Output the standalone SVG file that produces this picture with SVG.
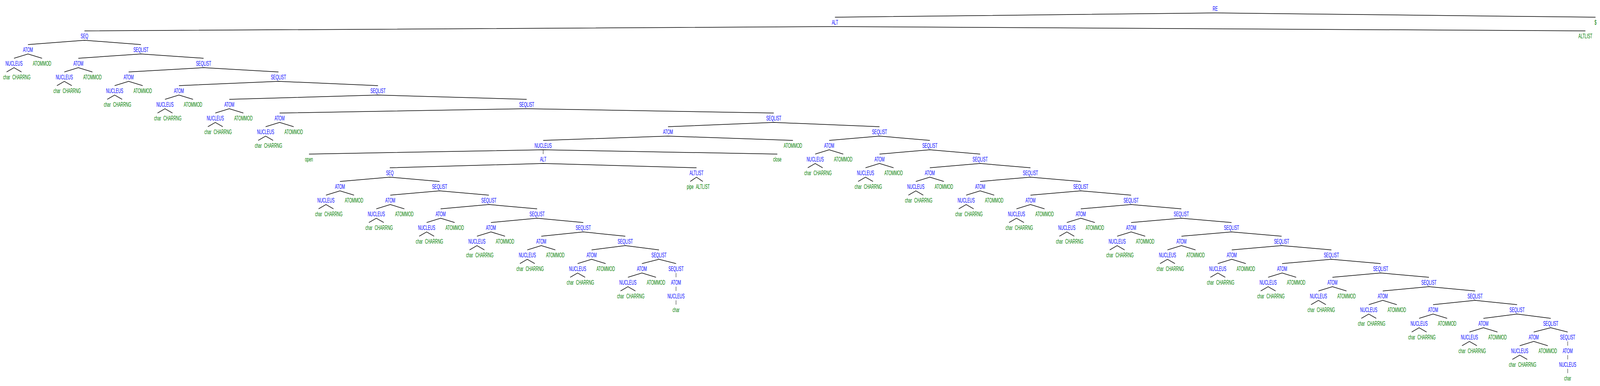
<svg xmlns="http://www.w3.org/2000/svg" width="7128" height="987" viewBox="0 0 7128 987" preserveAspectRatio="none">
<style>
svg{width:100vw;height:100vh}
text{font-family:"Liberation Sans",Arial,Helvetica,sans-serif;font-size:16px;text-anchor:middle}
.n{fill:#0000ff}
.t{fill:#008000}
#edges path{fill:none;stroke:#000;stroke-width:1.5}
</style>
<rect width="7128" height="987" fill="#ffffff"/>
<g id="edges">
<path d="M3719.7,44 L5413.8,33 L7108,44"/>
<path d="M376.3,79 L3719.7,68 L7063,79"/>
<path d="M124.7,114 L376.3,103 L627.9,114"/>
<path d="M348.9,149 L627.9,138 L906.9,149"/>
<path d="M573.1,184 L906.9,173 L1240.6,184"/>
<path d="M797.3,219 L1240.6,208 L1684,219"/>
<path d="M1021.5,254 L1684,243 L2346.4,254"/>
<path d="M1245.7,289 L2346.4,278 L3447.1,289"/>
<path d="M2976.1,324 L3447.1,313 L3918.2,324"/>
<path d="M2419.8,359 L2976.1,348 L3532.5,359"/>
<path d="M1376.5,394 L2419.8,383 L3463,394 M2419.8,383 L2419.8,394"/>
<path d="M1736.5,429 L2419.8,418 L3103,429"/>
<path d="M3075,464 L3103,453 L3131,464"/>
<path d="M1514.6,464 L1736.5,453 L1958.4,464"/>
<path d="M1738.8,499 L1958.4,488 L2177.9,499"/>
<path d="M1963,534 L2177.9,523 L2392.8,534"/>
<path d="M2187.2,569 L2392.8,558 L2598.5,569"/>
<path d="M2411.4,604 L2598.5,593 L2785.7,604"/>
<path d="M2635.6,639 L2785.7,628 L2935.8,639"/>
<path d="M2859.8,674 L2935.8,663 L3011.8,674"/>
<path d="M3011.8,698 L3011.8,709"/>
<path d="M3011.8,733 L3011.8,744"/>
<path d="M3011.8,768 L3011.8,779"/>
<path d="M3694,359 L3918.2,348 L4142.4,359"/>
<path d="M3918.2,394 L4142.4,383 L4366.6,394"/>
<path d="M4142.4,429 L4366.6,418 L4590.7,429"/>
<path d="M4366.6,464 L4590.7,453 L4814.9,464"/>
<path d="M4590.8,499 L4814.9,488 L5038.9,499"/>
<path d="M4815,534 L5038.9,523 L5262.8,534"/>
<path d="M5039.2,569 L5262.8,558 L5486.5,569"/>
<path d="M5263.4,604 L5486.5,593 L5709.5,604"/>
<path d="M5487.6,639 L5709.5,628 L5931.4,639"/>
<path d="M5711.8,674 L5931.4,663 L6150.9,674"/>
<path d="M5936,709 L6150.9,698 L6365.8,709"/>
<path d="M6160.2,744 L6365.8,733 L6571.5,744"/>
<path d="M6384.4,779 L6571.5,768 L6758.5,779"/>
<path d="M6608.6,814 L6758.5,803 L6908.4,814"/>
<path d="M6832.8,849 L6908.4,838 L6984,849"/>
<path d="M6984,873 L6984,884"/>
<path d="M6984,908 L6984,919"/>
<path d="M6984,943 L6984,954"/>
<path d="M62.4,149 L124.7,138 L187.3,149 M29.4,184 L62.4,173 L95.6,184"/>
<path d="M286.6,184 L348.9,173 L411.5,184 M253.6,219 L286.6,208 L319.8,219"/>
<path d="M510.8,219 L573.1,208 L635.7,219 M477.8,254 L510.8,243 L544,254"/>
<path d="M735,254 L797.3,243 L859.9,254 M702,289 L735,278 L768.2,289"/>
<path d="M959.2,289 L1021.5,278 L1084.1,289 M926.2,324 L959.2,313 L992.4,324"/>
<path d="M1183.4,324 L1245.7,313 L1308.3,324 M1150.4,359 L1183.4,348 L1216.6,359"/>
<path d="M1452.3,499 L1514.6,488 L1577.2,499 M1419.3,534 L1452.3,523 L1485.5,534"/>
<path d="M1676.5,534 L1738.8,523 L1801.4,534 M1643.5,569 L1676.5,558 L1709.7,569"/>
<path d="M1900.7,569 L1963,558 L2025.6,569 M1867.7,604 L1900.7,593 L1933.9,604"/>
<path d="M2124.9,604 L2187.2,593 L2249.8,604 M2091.9,639 L2124.9,628 L2158.1,639"/>
<path d="M2349.1,639 L2411.4,628 L2474,639 M2316.1,674 L2349.1,663 L2382.3,674"/>
<path d="M2573.3,674 L2635.6,663 L2698.2,674 M2540.3,709 L2573.3,698 L2606.5,709"/>
<path d="M2797.5,709 L2859.8,698 L2922.4,709 M2764.5,744 L2797.5,733 L2830.7,744"/>
<path d="M3631.7,394 L3694,383 L3756.6,394 M3598.7,429 L3631.7,418 L3664.9,429"/>
<path d="M3855.9,429 L3918.2,418 L3980.8,429 M3822.9,464 L3855.9,453 L3889.1,464"/>
<path d="M4080.1,464 L4142.4,453 L4205,464 M4047.1,499 L4080.1,488 L4113.3,499"/>
<path d="M4304.3,499 L4366.6,488 L4429.2,499 M4271.3,534 L4304.3,523 L4337.5,534"/>
<path d="M4528.5,534 L4590.8,523 L4653.4,534 M4495.5,569 L4528.5,558 L4561.7,569"/>
<path d="M4752.7,569 L4815,558 L4877.6,569 M4719.7,604 L4752.7,593 L4785.9,604"/>
<path d="M4976.9,604 L5039.2,593 L5101.8,604 M4943.9,639 L4976.9,628 L5010.1,639"/>
<path d="M5201.1,639 L5263.4,628 L5326,639 M5168.1,674 L5201.1,663 L5234.3,674"/>
<path d="M5425.3,674 L5487.6,663 L5550.2,674 M5392.3,709 L5425.3,698 L5458.5,709"/>
<path d="M5649.5,709 L5711.8,698 L5774.4,709 M5616.5,744 L5649.5,733 L5682.7,744"/>
<path d="M5873.7,744 L5936,733 L5998.6,744 M5840.7,779 L5873.7,768 L5906.9,779"/>
<path d="M6097.9,779 L6160.2,768 L6222.8,779 M6064.9,814 L6097.9,803 L6131.1,814"/>
<path d="M6322.1,814 L6384.4,803 L6447,814 M6289.1,849 L6322.1,838 L6355.3,849"/>
<path d="M6546.3,849 L6608.6,838 L6671.2,849 M6513.3,884 L6546.3,873 L6579.5,884"/>
<path d="M6770.5,884 L6832.8,873 L6895.4,884 M6737.5,919 L6770.5,908 L6803.7,919"/>
</g>
<g id="nodes">
<g id="re"><text class="n" x="5413.8" y="28">RE</text></g>
<g id="alt"><text class="n" x="3719.7" y="63">ALT</text></g>
<g id="dollar"><text class="t" x="7108" y="63">$</text></g>
<g id="seq"><text class="n" x="376.3" y="98">SEQ</text></g>
<g id="altlist"><text class="t" x="7063" y="98">ALTLIST</text></g>
<g id="s3"><text class="n" x="627.9" y="133">SEQLIST</text></g>
<g id="s4"><text class="n" x="906.9" y="168">SEQLIST</text></g>
<g id="s5"><text class="n" x="1240.6" y="203">SEQLIST</text></g>
<g id="s6"><text class="n" x="1684" y="238">SEQLIST</text></g>
<g id="s7"><text class="n" x="2346.4" y="273">SEQLIST</text></g>
<g id="s8"><text class="n" x="3447.1" y="308">SEQLIST</text></g>
<g id="a9"><text class="n" x="2976.1" y="343">ATOM</text></g>
<g id="a9-nuc"><text class="n" x="2419.8" y="378">NUCLEUS</text></g>
<g id="a9-mod"><text class="t" x="3532.5" y="378">ATOMMOD</text></g>
<g id="open"><text class="t" x="1376.5" y="413">open</text></g>
<g id="alt11"><text class="n" x="2419.8" y="413">ALT</text></g>
<g id="close"><text class="t" x="3463" y="413">close</text></g>
<g id="seq12"><text class="n" x="1736.5" y="448">SEQ</text></g>
<g id="altlist12"><text class="n" x="3103" y="448">ALTLIST</text></g>
<g id="pipe"><text class="t" x="3075" y="483">pipe</text></g>
<g id="altlist13"><text class="t" x="3131" y="483">ALTLIST</text></g>
<g id="is13"><text class="n" x="1958.4" y="483">SEQLIST</text></g>
<g id="is14"><text class="n" x="2177.9" y="518">SEQLIST</text></g>
<g id="is15"><text class="n" x="2392.8" y="553">SEQLIST</text></g>
<g id="is16"><text class="n" x="2598.5" y="588">SEQLIST</text></g>
<g id="is17"><text class="n" x="2785.7" y="623">SEQLIST</text></g>
<g id="is18"><text class="n" x="2935.8" y="658">SEQLIST</text></g>
<g id="is19"><text class="n" x="3011.8" y="693">SEQLIST</text></g>
<g id="ia20"><text class="n" x="3011.8" y="728">ATOM</text></g>
<g id="ia20-nuc"><text class="n" x="3011.8" y="763">NUCLEUS</text></g>
<g id="ia20-char"><text class="t" x="3011.8" y="798">char</text></g>
<g id="s9"><text class="n" x="3918.2" y="343">SEQLIST</text></g>
<g id="s10"><text class="n" x="4142.4" y="378">SEQLIST</text></g>
<g id="s11"><text class="n" x="4366.6" y="413">SEQLIST</text></g>
<g id="s12"><text class="n" x="4590.7" y="448">SEQLIST</text></g>
<g id="s13"><text class="n" x="4814.9" y="483">SEQLIST</text></g>
<g id="s14"><text class="n" x="5038.9" y="518">SEQLIST</text></g>
<g id="s15"><text class="n" x="5262.8" y="553">SEQLIST</text></g>
<g id="s16"><text class="n" x="5486.5" y="588">SEQLIST</text></g>
<g id="s17"><text class="n" x="5709.5" y="623">SEQLIST</text></g>
<g id="s18"><text class="n" x="5931.4" y="658">SEQLIST</text></g>
<g id="s19"><text class="n" x="6150.9" y="693">SEQLIST</text></g>
<g id="s20"><text class="n" x="6365.8" y="728">SEQLIST</text></g>
<g id="s21"><text class="n" x="6571.5" y="763">SEQLIST</text></g>
<g id="s22"><text class="n" x="6758.5" y="798">SEQLIST</text></g>
<g id="s23"><text class="n" x="6908.4" y="833">SEQLIST</text></g>
<g id="s24"><text class="n" x="6984" y="868">SEQLIST</text></g>
<g id="a25"><text class="n" x="6984" y="903">ATOM</text></g>
<g id="a25-nuc"><text class="n" x="6984" y="938">NUCLEUS</text></g>
<g id="a25-char"><text class="t" x="6984" y="973">char</text></g>

<g id="a3"><text class="n" x="124.7" y="133">ATOM</text></g>
<g id="a3-nuc"><text class="n" x="62.4" y="168">NUCLEUS</text></g>
<g id="a3-mod"><text class="t" x="187.3" y="168">ATOMMOD</text></g>
<g id="a3-char"><text class="t" x="29.4" y="203">char</text></g>
<g id="a3-rng"><text class="t" x="95.6" y="203">CHARRNG</text></g>

<g id="a4"><text class="n" x="348.9" y="168">ATOM</text></g>
<g id="a4-nuc"><text class="n" x="286.6" y="203">NUCLEUS</text></g>
<g id="a4-mod"><text class="t" x="411.5" y="203">ATOMMOD</text></g>
<g id="a4-char"><text class="t" x="253.6" y="238">char</text></g>
<g id="a4-rng"><text class="t" x="319.8" y="238">CHARRNG</text></g>

<g id="a5"><text class="n" x="573.1" y="203">ATOM</text></g>
<g id="a5-nuc"><text class="n" x="510.8" y="238">NUCLEUS</text></g>
<g id="a5-mod"><text class="t" x="635.7" y="238">ATOMMOD</text></g>
<g id="a5-char"><text class="t" x="477.8" y="273">char</text></g>
<g id="a5-rng"><text class="t" x="544" y="273">CHARRNG</text></g>

<g id="a6"><text class="n" x="797.3" y="238">ATOM</text></g>
<g id="a6-nuc"><text class="n" x="735" y="273">NUCLEUS</text></g>
<g id="a6-mod"><text class="t" x="859.9" y="273">ATOMMOD</text></g>
<g id="a6-char"><text class="t" x="702" y="308">char</text></g>
<g id="a6-rng"><text class="t" x="768.2" y="308">CHARRNG</text></g>

<g id="a7"><text class="n" x="1021.5" y="273">ATOM</text></g>
<g id="a7-nuc"><text class="n" x="959.2" y="308">NUCLEUS</text></g>
<g id="a7-mod"><text class="t" x="1084.1" y="308">ATOMMOD</text></g>
<g id="a7-char"><text class="t" x="926.2" y="343">char</text></g>
<g id="a7-rng"><text class="t" x="992.4" y="343">CHARRNG</text></g>

<g id="a8"><text class="n" x="1245.7" y="308">ATOM</text></g>
<g id="a8-nuc"><text class="n" x="1183.4" y="343">NUCLEUS</text></g>
<g id="a8-mod"><text class="t" x="1308.3" y="343">ATOMMOD</text></g>
<g id="a8-char"><text class="t" x="1150.4" y="378">char</text></g>
<g id="a8-rng"><text class="t" x="1216.6" y="378">CHARRNG</text></g>

<g id="ia13"><text class="n" x="1514.6" y="483">ATOM</text></g>
<g id="ia13-nuc"><text class="n" x="1452.3" y="518">NUCLEUS</text></g>
<g id="ia13-mod"><text class="t" x="1577.2" y="518">ATOMMOD</text></g>
<g id="ia13-char"><text class="t" x="1419.3" y="553">char</text></g>
<g id="ia13-rng"><text class="t" x="1485.5" y="553">CHARRNG</text></g>

<g id="ia14"><text class="n" x="1738.8" y="518">ATOM</text></g>
<g id="ia14-nuc"><text class="n" x="1676.5" y="553">NUCLEUS</text></g>
<g id="ia14-mod"><text class="t" x="1801.4" y="553">ATOMMOD</text></g>
<g id="ia14-char"><text class="t" x="1643.5" y="588">char</text></g>
<g id="ia14-rng"><text class="t" x="1709.7" y="588">CHARRNG</text></g>

<g id="ia15"><text class="n" x="1963" y="553">ATOM</text></g>
<g id="ia15-nuc"><text class="n" x="1900.7" y="588">NUCLEUS</text></g>
<g id="ia15-mod"><text class="t" x="2025.6" y="588">ATOMMOD</text></g>
<g id="ia15-char"><text class="t" x="1867.7" y="623">char</text></g>
<g id="ia15-rng"><text class="t" x="1933.9" y="623">CHARRNG</text></g>

<g id="ia16"><text class="n" x="2187.2" y="588">ATOM</text></g>
<g id="ia16-nuc"><text class="n" x="2124.9" y="623">NUCLEUS</text></g>
<g id="ia16-mod"><text class="t" x="2249.8" y="623">ATOMMOD</text></g>
<g id="ia16-char"><text class="t" x="2091.9" y="658">char</text></g>
<g id="ia16-rng"><text class="t" x="2158.1" y="658">CHARRNG</text></g>

<g id="ia17"><text class="n" x="2411.4" y="623">ATOM</text></g>
<g id="ia17-nuc"><text class="n" x="2349.1" y="658">NUCLEUS</text></g>
<g id="ia17-mod"><text class="t" x="2474" y="658">ATOMMOD</text></g>
<g id="ia17-char"><text class="t" x="2316.1" y="693">char</text></g>
<g id="ia17-rng"><text class="t" x="2382.3" y="693">CHARRNG</text></g>

<g id="ia18"><text class="n" x="2635.6" y="658">ATOM</text></g>
<g id="ia18-nuc"><text class="n" x="2573.3" y="693">NUCLEUS</text></g>
<g id="ia18-mod"><text class="t" x="2698.2" y="693">ATOMMOD</text></g>
<g id="ia18-char"><text class="t" x="2540.3" y="728">char</text></g>
<g id="ia18-rng"><text class="t" x="2606.5" y="728">CHARRNG</text></g>

<g id="ia19"><text class="n" x="2859.8" y="693">ATOM</text></g>
<g id="ia19-nuc"><text class="n" x="2797.5" y="728">NUCLEUS</text></g>
<g id="ia19-mod"><text class="t" x="2922.4" y="728">ATOMMOD</text></g>
<g id="ia19-char"><text class="t" x="2764.5" y="763">char</text></g>
<g id="ia19-rng"><text class="t" x="2830.7" y="763">CHARRNG</text></g>

<g id="a10"><text class="n" x="3694" y="378">ATOM</text></g>
<g id="a10-nuc"><text class="n" x="3631.7" y="413">NUCLEUS</text></g>
<g id="a10-mod"><text class="t" x="3756.6" y="413">ATOMMOD</text></g>
<g id="a10-char"><text class="t" x="3598.7" y="448">char</text></g>
<g id="a10-rng"><text class="t" x="3664.9" y="448">CHARRNG</text></g>

<g id="a11"><text class="n" x="3918.2" y="413">ATOM</text></g>
<g id="a11-nuc"><text class="n" x="3855.9" y="448">NUCLEUS</text></g>
<g id="a11-mod"><text class="t" x="3980.8" y="448">ATOMMOD</text></g>
<g id="a11-char"><text class="t" x="3822.9" y="483">char</text></g>
<g id="a11-rng"><text class="t" x="3889.1" y="483">CHARRNG</text></g>

<g id="a12"><text class="n" x="4142.4" y="448">ATOM</text></g>
<g id="a12-nuc"><text class="n" x="4080.1" y="483">NUCLEUS</text></g>
<g id="a12-mod"><text class="t" x="4205" y="483">ATOMMOD</text></g>
<g id="a12-char"><text class="t" x="4047.1" y="518">char</text></g>
<g id="a12-rng"><text class="t" x="4113.3" y="518">CHARRNG</text></g>

<g id="a13"><text class="n" x="4366.6" y="483">ATOM</text></g>
<g id="a13-nuc"><text class="n" x="4304.3" y="518">NUCLEUS</text></g>
<g id="a13-mod"><text class="t" x="4429.2" y="518">ATOMMOD</text></g>
<g id="a13-char"><text class="t" x="4271.3" y="553">char</text></g>
<g id="a13-rng"><text class="t" x="4337.5" y="553">CHARRNG</text></g>

<g id="a14"><text class="n" x="4590.8" y="518">ATOM</text></g>
<g id="a14-nuc"><text class="n" x="4528.5" y="553">NUCLEUS</text></g>
<g id="a14-mod"><text class="t" x="4653.4" y="553">ATOMMOD</text></g>
<g id="a14-char"><text class="t" x="4495.5" y="588">char</text></g>
<g id="a14-rng"><text class="t" x="4561.7" y="588">CHARRNG</text></g>

<g id="a15"><text class="n" x="4815" y="553">ATOM</text></g>
<g id="a15-nuc"><text class="n" x="4752.7" y="588">NUCLEUS</text></g>
<g id="a15-mod"><text class="t" x="4877.6" y="588">ATOMMOD</text></g>
<g id="a15-char"><text class="t" x="4719.7" y="623">char</text></g>
<g id="a15-rng"><text class="t" x="4785.9" y="623">CHARRNG</text></g>

<g id="a16"><text class="n" x="5039.2" y="588">ATOM</text></g>
<g id="a16-nuc"><text class="n" x="4976.9" y="623">NUCLEUS</text></g>
<g id="a16-mod"><text class="t" x="5101.8" y="623">ATOMMOD</text></g>
<g id="a16-char"><text class="t" x="4943.9" y="658">char</text></g>
<g id="a16-rng"><text class="t" x="5010.1" y="658">CHARRNG</text></g>

<g id="a17"><text class="n" x="5263.4" y="623">ATOM</text></g>
<g id="a17-nuc"><text class="n" x="5201.1" y="658">NUCLEUS</text></g>
<g id="a17-mod"><text class="t" x="5326" y="658">ATOMMOD</text></g>
<g id="a17-char"><text class="t" x="5168.1" y="693">char</text></g>
<g id="a17-rng"><text class="t" x="5234.3" y="693">CHARRNG</text></g>

<g id="a18"><text class="n" x="5487.6" y="658">ATOM</text></g>
<g id="a18-nuc"><text class="n" x="5425.3" y="693">NUCLEUS</text></g>
<g id="a18-mod"><text class="t" x="5550.2" y="693">ATOMMOD</text></g>
<g id="a18-char"><text class="t" x="5392.3" y="728">char</text></g>
<g id="a18-rng"><text class="t" x="5458.5" y="728">CHARRNG</text></g>

<g id="a19"><text class="n" x="5711.8" y="693">ATOM</text></g>
<g id="a19-nuc"><text class="n" x="5649.5" y="728">NUCLEUS</text></g>
<g id="a19-mod"><text class="t" x="5774.4" y="728">ATOMMOD</text></g>
<g id="a19-char"><text class="t" x="5616.5" y="763">char</text></g>
<g id="a19-rng"><text class="t" x="5682.7" y="763">CHARRNG</text></g>

<g id="a20"><text class="n" x="5936" y="728">ATOM</text></g>
<g id="a20-nuc"><text class="n" x="5873.7" y="763">NUCLEUS</text></g>
<g id="a20-mod"><text class="t" x="5998.6" y="763">ATOMMOD</text></g>
<g id="a20-char"><text class="t" x="5840.7" y="798">char</text></g>
<g id="a20-rng"><text class="t" x="5906.9" y="798">CHARRNG</text></g>

<g id="a21"><text class="n" x="6160.2" y="763">ATOM</text></g>
<g id="a21-nuc"><text class="n" x="6097.9" y="798">NUCLEUS</text></g>
<g id="a21-mod"><text class="t" x="6222.8" y="798">ATOMMOD</text></g>
<g id="a21-char"><text class="t" x="6064.9" y="833">char</text></g>
<g id="a21-rng"><text class="t" x="6131.1" y="833">CHARRNG</text></g>

<g id="a22"><text class="n" x="6384.4" y="798">ATOM</text></g>
<g id="a22-nuc"><text class="n" x="6322.1" y="833">NUCLEUS</text></g>
<g id="a22-mod"><text class="t" x="6447" y="833">ATOMMOD</text></g>
<g id="a22-char"><text class="t" x="6289.1" y="868">char</text></g>
<g id="a22-rng"><text class="t" x="6355.3" y="868">CHARRNG</text></g>

<g id="a23"><text class="n" x="6608.6" y="833">ATOM</text></g>
<g id="a23-nuc"><text class="n" x="6546.3" y="868">NUCLEUS</text></g>
<g id="a23-mod"><text class="t" x="6671.2" y="868">ATOMMOD</text></g>
<g id="a23-char"><text class="t" x="6513.3" y="903">char</text></g>
<g id="a23-rng"><text class="t" x="6579.5" y="903">CHARRNG</text></g>

<g id="a24"><text class="n" x="6832.8" y="868">ATOM</text></g>
<g id="a24-nuc"><text class="n" x="6770.5" y="903">NUCLEUS</text></g>
<g id="a24-mod"><text class="t" x="6895.4" y="903">ATOMMOD</text></g>
<g id="a24-char"><text class="t" x="6737.5" y="938">char</text></g>
<g id="a24-rng"><text class="t" x="6803.7" y="938">CHARRNG</text></g>
</g>
</svg>
